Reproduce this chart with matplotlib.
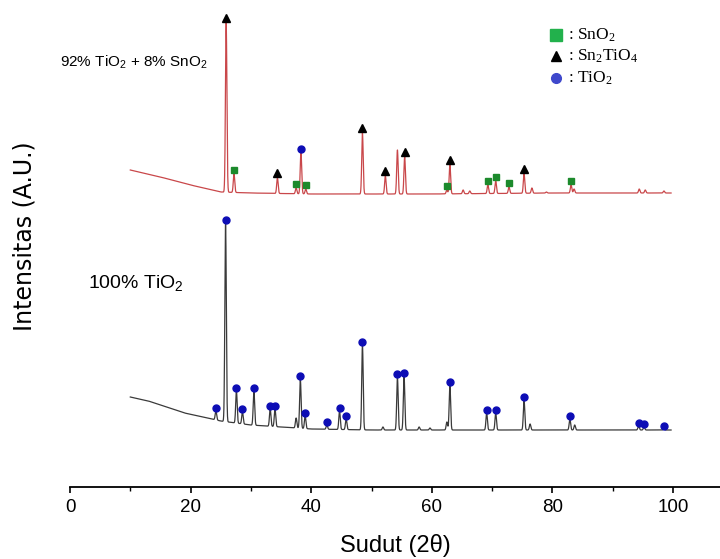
import numpy as np
import matplotlib.pyplot as plt

plt.rcParams['mathtext.default'] = 'regular'

# 2-theta grid for both scans
two_theta = np.arange(10.0, 99.7, 0.02)

# --- 100% TiO2 (black) ---
black_base_x = [10, 13, 16, 19, 22, 25, 30, 35, 40, 50, 60, 70, 80, 90, 99.7]
black_base_y = [90, 86, 80, 74, 70, 66, 62, 60, 58, 57, 57, 57, 57, 57, 57]
black_tio2_pos = [24.2, 25.8, 27.6, 28.6, 30.5, 33.2, 34.0, 38.2, 39.0, 42.6, 44.7, 45.8,
                  48.5, 54.3, 55.4, 63.0, 69.1, 70.6, 75.3, 82.9, 94.3, 95.2, 98.5]
black_tio2_int = [76, 264, 96, 75, 96, 78, 78, 108, 71, 62, 76, 68,
                  142, 110, 111, 102, 74, 74, 87, 68, 61, 60, 58]
black_minor_pos = [37.5, 51.9, 57.9, 59.7, 62.5, 76.3, 83.7]
black_minor_int = [69, 60, 60, 59, 65, 63, 62]

# --- 92% TiO2 + 8% SnO2 (red) ---
red_base_x = [10, 15, 20, 25, 30, 40, 60, 80, 99.7]
red_base_y = [317, 310, 302, 295, 294, 293, 293, 294, 294]
red_sno2_pos = [27.2, 37.5, 39.1, 62.5, 69.3, 70.6, 72.8, 83.1]
red_sno2_int = [313, 299, 298, 297, 302, 306, 300, 302]
red_sn2tio4_pos = [25.9, 34.4, 48.5, 52.3, 55.5, 63.0, 75.3]
red_sn2tio4_int = [464, 309, 354, 311, 330, 322, 313]
red_tio2_pos = [38.3]
red_tio2_int = [335]
red_minor_pos = [54.3, 65.2, 66.3, 76.6, 79.0, 83.6, 94.4, 95.4, 98.5]
red_minor_int = [337, 297, 296, 299, 295, 298, 298, 297, 296]


def pattern(base_x, base_y, pos, apex, width=0.12):
    base = np.interp(two_theta, base_x, base_y)
    y = base.copy()
    for c, a in zip(pos, apex):
        h = a - np.interp(c, base_x, base_y)
        y += h * np.exp(-0.5 * ((two_theta - c) / width) ** 2)
    return y


black = pattern(black_base_x, black_base_y,
                black_tio2_pos + black_minor_pos, black_tio2_int + black_minor_int)
red = pattern(red_base_x, red_base_y,
              red_sno2_pos + red_sn2tio4_pos + red_tio2_pos + red_minor_pos,
              red_sno2_int + red_sn2tio4_int + red_tio2_int + red_minor_int)

W, H = 720, 559
fig = plt.figure(figsize=(W / 100, H / 100), dpi=100)
ax = fig.add_axes([70 / W, 72 / H, 650 / W, 487 / H])

ax.plot(two_theta, red, color='#c9474a', lw=0.9)
ax.plot(two_theta, black, color='#3a3a3a', lw=0.9)

blue = '#0d0db5'
green = '#1c8a2c'
ax.plot(black_tio2_pos, np.array(black_tio2_int) + 3, 'o', color=blue, ms=5, clip_on=False)
ax.plot(red_tio2_pos, np.array(red_tio2_int) + 3, 'o', color=blue, ms=5, clip_on=False)
ax.plot(red_sno2_pos, np.array(red_sno2_int) + 4, 's', color=green, ms=5, clip_on=False)
ax.plot(red_sn2tio4_pos, np.array(red_sn2tio4_int) + 5, '^', color='black', ms=5.5, clip_on=False)

ax.set_xlim(0, 650 / 6.03)
ax.set_ylim(0, 487)
ax.set_xticks([0, 20, 40, 60, 80, 100])
ax.set_xticks([10, 30, 50, 70, 90], minor=True)
ax.set_yticks([])
for s in ['left', 'top', 'right']:
    ax.spines[s].set_visible(False)
ax.spines['bottom'].set_linewidth(1.3)
ax.tick_params(axis='x', which='major', length=4.5, width=1.2, labelsize=13.5, pad=4)
ax.tick_params(axis='x', which='minor', length=3, width=1.0)
ax.set_xlabel('Sudut (2θ)', fontsize=17, labelpad=13)
fig.text(25 / W, 1 - 236 / H, 'Intensitas (A.U.)', rotation=90,
         ha='center', va='center', fontsize=17)

sans = ['Liberation Sans', 'DejaVu Sans']
for lab in ax.get_xticklabels():
    lab.set_family(sans)
ax.xaxis.label.set_family(sans)

fig.text(60 / W, 1 - 62 / H, '92% TiO$_2$ + 8% SnO$_2$', fontsize=11, family=sans, va='center')
fig.text(88 / W, 1 - 283 / H, '100% TiO$_2$', fontsize=14, family=sans, va='center')

# key for the phase markers
serif = ['Liberation Serif', 'DejaVu Serif']
keys = [('s', '#22b14c', 8, ': SnO$_2$'),
        ('^', 'black', 7, ': Sn$_2$TiO$_4$'),
        ('o', '#3f48cc', 7, ': TiO$_2$')]
for i, (m, c, size, txt) in enumerate(keys):
    yk = 1 - (35 + 21.5 * i) / H
    fig.lines.append(plt.Line2D([556 / W], [yk], marker=m, color=c, ms=size,
                                transform=fig.transFigure, ls='none'))
    fig.text(568 / W, yk, txt, fontsize=12.5, family=serif, va='center')

fig.savefig('out.png', dpi=100)
